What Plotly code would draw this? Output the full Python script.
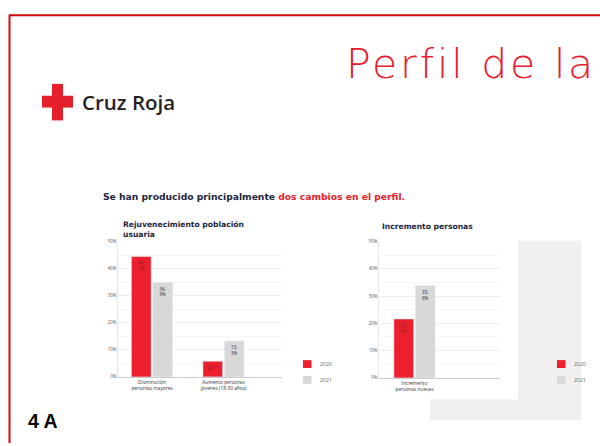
import plotly.graph_objects as go

W, H = 600, 446

# ---- data ----
left_categories = ["Disminución<br>personas mayores", "Aumento personas<br>jóvenes (18-30 años)"]
left_2020 = [44.5, 5.8]
left_2021 = [34.9, 13.3]
right_categories = ["Incremento<br>personas nuevas"]
right_2020 = [21.6]
right_2021 = [33.8]
series_names = ["2020", "2021"]
y_tick_vals = [0, 10, 20, 30, 40, 50]
y_tick_text = ["0%", "10%", "20%", "30%", "40%", "50%"]

RED = "#ec1f2d"
GRAY = "#d8d8d8"
NAVY = "#1d1f3f"
series_colors = [RED, GRAY]


def fmt(v):
    s = f"{v:.1f}".replace(".", ",")
    a, b = s.split(",")
    return f"{a},<br>{b}%"


def px(x):
    return x / W


def py(y):
    return 1 - y / H


fig = go.Figure()

label_colors = ["#9a1a22", NAVY]
for vals, name, col, lc in [(left_2020, series_names[0], RED, label_colors[0]),
                            (left_2021, series_names[1], GRAY, label_colors[1])]:
    fig.add_trace(go.Bar(x=left_categories, y=vals, name=name, marker_color=col,
                         text=[fmt(v) for v in vals], textposition="inside", insidetextanchor="end",
                         textfont=dict(size=4.5, color=lc, family="Open Sans"),
                         xaxis="x", yaxis="y", showlegend=False))
for vals, name, col, lc in [(right_2020, series_names[0], RED, label_colors[0]),
                            (right_2021, series_names[1], GRAY, label_colors[1])]:
    fig.add_trace(go.Bar(x=right_categories, y=vals, name=name, marker_color=col,
                         text=[fmt(v) for v in vals], textposition="inside", insidetextanchor="end",
                         textfont=dict(size=4.5, color=lc, family="Open Sans"),
                         xaxis="x2", yaxis="y2", showlegend=False))

unit = 71.5  # px per category
yax = dict(range=[0, 50], tickvals=y_tick_vals, ticktext=y_tick_text,
           tickfont=dict(size=4.4, color="#555", family="Open Sans"),
           showgrid=True, gridcolor="#efefef", gridwidth=0.6,
           minor=dict(dtick=5, showgrid=True, gridcolor="#f5f5f5", gridwidth=0.5),
           zeroline=False, showline=True, linecolor="#e6e6e6", linewidth=0.6, ticks="", ticklen=0)
xax = dict(type="category", tickfont=dict(size=4.8, color="#333", family="Open Sans"),
           showgrid=False, showline=True, linecolor="#cccccc", linewidth=0.8, ticks="", ticklen=0)

fig.update_layout(
    width=W, height=H, margin=dict(l=0, r=0, t=0, b=0),
    paper_bgcolor="white", plot_bgcolor="rgba(0,0,0,0)",
    barmode="group", bargap=0.4, bargroupgap=0.08, showlegend=False,
    xaxis=dict(xax, domain=[px(118), px(282)], range=[(118 - 152) / unit, (282 - 152) / unit], anchor="y"),
    yaxis=dict(yax, domain=[py(379), py(242)], anchor="x"),
    xaxis2=dict(xax, domain=[px(379), px(500)], range=[(379 - 414.5) / unit, (500 - 414.5) / unit], anchor="y2"),
    yaxis2=dict(yax, domain=[py(380), py(241.7)], anchor="x2"),
)

shapes = [
    # gray panel behind right legend
    dict(type="rect", xref="paper", yref="paper", x0=px(430), x1=px(581), y0=py(423), y1=py(241),
         fillcolor="#efefef", line_width=0, layer="below"),
    dict(type="rect", xref="paper", yref="paper", x0=px(340), x1=px(518), y0=py(402), y1=py(205),
         fillcolor="white", line_width=0, layer="below"),
    # red frame
    dict(type="line", xref="paper", yref="paper", x0=px(9), x1=1, y0=py(12.5), y1=py(12.5),
         line=dict(color="#d10a0a", width=2)),
    dict(type="line", xref="paper", yref="paper", x0=px(9.5), x1=px(9.5), y0=py(12), y1=0,
         line=dict(color="#d10a0a", width=2)),
    # Cruz Roja cross
    dict(type="rect", xref="paper", yref="paper", x0=px(42), x1=px(73), y0=py(106), y1=py(94),
         fillcolor="#e5202c", line_width=0),
    dict(type="rect", xref="paper", yref="paper", x0=px(52), x1=px(63), y0=py(119), y1=py(82),
         fillcolor="#e5202c", line_width=0),
]

ann = []
# legends (one per chart)
for lx in (303, 557):
    for i, (name, col) in enumerate(zip(series_names, series_colors)):
        y0 = 362 + 16 * i
        shapes.append(dict(type="rect", xref="paper", yref="paper", x0=px(lx), x1=px(lx + 8.5),
                           y0=py(y0 + 8), y1=py(y0), fillcolor=col, line_width=0))
        ann.append(dict(text=name, x=px(lx + 15), y=py(y0 + 4), xanchor="left", yanchor="middle",
                        font=dict(size=5.2, color="#666", family="Open Sans")))
fig.update_layout(shapes=shapes)

ann += [
    dict(text="Cruz Roja", x=px(80), y=py(100), xanchor="left", yanchor="middle",
         font=dict(size=20.5, color="#222", family="Open Sans", weight=600)),
    dict(text="<span style='letter-spacing:2.8px'>Perfil de la</span>", x=px(344), y=py(62),
         xanchor="left", yanchor="middle",
         font=dict(size=41, color="#e5202c", family="DejaVu Sans", weight=200)),
    dict(text=f"<b><span style='color:{NAVY}'>Se han producido principalmente </span>"
              f"<span style='color:#e5202c'>dos cambios en el perfil.</span></b>",
         x=px(101), y=py(196), xanchor="left", yanchor="middle",
         font=dict(size=9.2, family="DejaVu Sans")),
    dict(text="<b>Rejuvenecimiento población<br>usuaria</b>", x=px(121), y=py(230), xanchor="left",
         yanchor="middle", align="left", font=dict(size=7.6, color=NAVY, family="DejaVu Sans")),
    dict(text="<b>Incremento personas</b>", x=px(380), y=py(226.5), xanchor="left",
         yanchor="middle", align="left", font=dict(size=7.6, color=NAVY, family="DejaVu Sans")),
    dict(text="<b>4 A</b>", x=px(26), y=py(424), xanchor="left", yanchor="middle",
         font=dict(size=19.5, color="#000", family="Liberation Sans")),
]
for a in ann:
    a.update(xref="paper", yref="paper", showarrow=False)
fig.update_layout(annotations=ann)

fig.write_html("out.html")
